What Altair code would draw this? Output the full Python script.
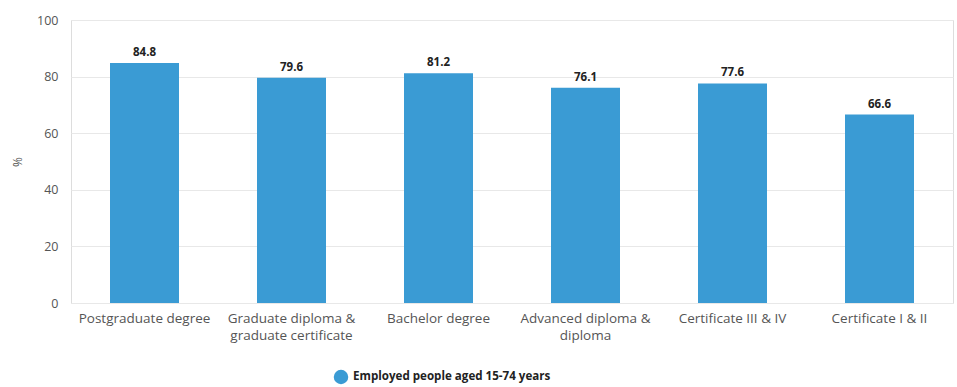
import altair as alt
import pandas as pd

categories = [
    "Postgraduate degree",
    "Graduate diploma & graduate certificate",
    "Bachelor degree",
    "Advanced diploma & diploma",
    "Certificate III & IV",
    "Certificate I & II",
]
values = [84.8, 79.6, 81.2, 76.1, 77.6, 66.6]
series = "Employed people aged 15-74 years"

df = pd.DataFrame({"category": categories, "value": values, "series": series})

FONT = "Open Sans"

base = alt.Chart(df).encode(
    x=alt.X(
        "category:N",
        sort=categories,
        title=None,
        scale=alt.Scale(paddingInner=0.53, paddingOuter=0.265),
        axis=alt.Axis(
            labelAngle=0,
            labelFontSize=13.5,
            labelColor="#555555",
            labelFont=FONT,
            labelPadding=8,
            labelLineHeight=17,
            labelLimit=0,
            ticks=False,
            domain=False,
            labelExpr="length(datum.label) > 20 ? split(replace(datum.label, '& ', '&|'), '|') : datum.label",
        ),
    ),
    y=alt.Y(
        "value:Q",
        title="%",
        scale=alt.Scale(domain=[0, 100]),
        axis=alt.Axis(
            values=[0, 20, 40, 60, 80, 100],
            labelFontSize=12.5,
            labelColor="#555555",
            labelFont=FONT,
            labelPadding=13,
            ticks=False,
            domain=False,
            gridColor="#e8e8e8",
            titleFont=FONT,
            titleFontSize=12,
            titleColor="#555555",
            titleFontWeight="normal",
            titlePadding=12,
        ),
    ),
)

bars = base.mark_bar(size=69).encode(
    color=alt.Color(
        "series:N",
        scale=alt.Scale(range=["#3a9bd4"]),
        legend=alt.Legend(
            title=None,
            orient="none",
            legendX=262,
            legendY=349,
            symbolType="circle",
            symbolSize=210,
            labelFont=FONT,
            labelFontSize=11.6,
            labelFontWeight="bold",
            labelColor="#222222",
            labelLimit=0,
        ),
    )
)

labels = base.mark_text(
    dy=-10, fontSize=11.5, fontWeight="bold", color="#222222", font=FONT
).encode(text=alt.Text("value:Q", format=".1f"))

chart = (
    alt.layer(bars, labels)
    .properties(
        width=882,
        height=283,
        autosize=alt.AutoSizeParams(type="none"),
        padding={"left": 71, "top": 20, "right": 4, "bottom": 84},
    )
    .configure_view(stroke=None)
    .configure(background="white")
)

chart.save("out.html", embed_options={"renderer": "svg", "actions": False})
